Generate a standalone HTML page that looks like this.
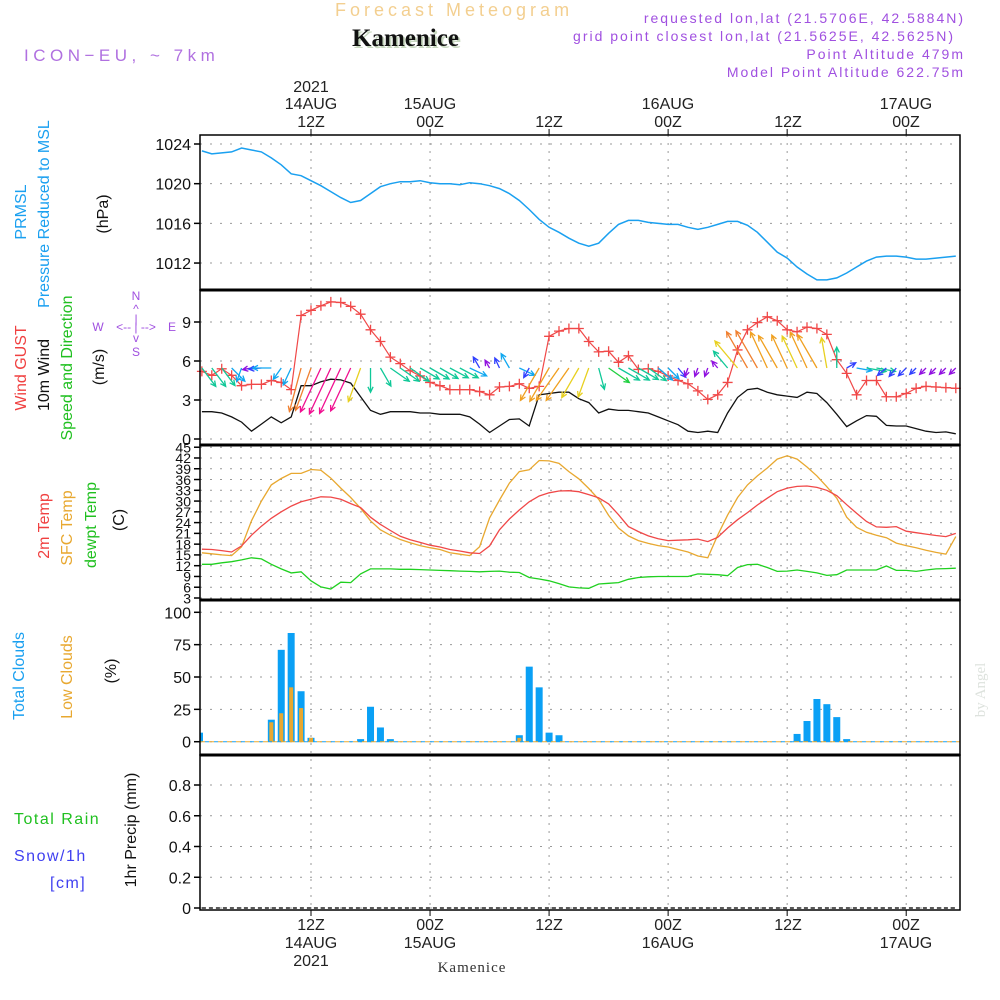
<!DOCTYPE html>
<html><head><meta charset="utf-8"><style>
html,body{margin:0;padding:0;background:#fff;}
svg{display:block;font-family:"Liberation Sans",sans-serif;}
</style></head><body>
<svg id="chart" width="1000" height="1000" viewBox="0 0 1000 1000" xmlns="http://www.w3.org/2000/svg">
<text x="335" y="16" font-size="18" fill="#f3cf90" letter-spacing="4">Forecast Meteogram</text>
<text x="354" y="48" font-size="25" font-weight="bold" font-family="Liberation Serif,serif" fill="#c8d8c0">Kamenice</text>
<text x="352" y="46" font-size="25" font-weight="bold" font-family="Liberation Serif,serif" fill="#111">Kamenice</text>
<g fill="#a050e0" font-size="14" text-anchor="end" letter-spacing="2">
<text x="965" y="23">requested lon,lat (21.5706E, 42.5884N)</text>
<text x="955" y="41">grid point closest lon,lat (21.5625E, 42.5625N)</text>
<text x="965" y="59">Point Altitude 479m</text>
<text x="965" y="77">Model Point Altitude 622.75m</text>
</g>
<text x="24" y="61" font-size="17" fill="#b070e0" letter-spacing="4.5">ICON−EU, ~ 7km</text>
<g font-size="16" fill="#222" text-anchor="middle">
<text x="311" y="92">2021</text>
<text x="311" y="109">14AUG</text>
<text x="311" y="127">12Z</text>
<text x="430" y="109">15AUG</text>
<text x="430" y="127">00Z</text>
<text x="549" y="127">12Z</text>
<text x="668" y="109">16AUG</text>
<text x="668" y="127">00Z</text>
<text x="788" y="127">12Z</text>
<text x="906" y="109">17AUG</text>
<text x="906" y="127">00Z</text>
<text x="311" y="930">12Z</text>
<text x="311" y="948">14AUG</text>
<text x="311" y="966">2021</text>
<text x="430" y="930">00Z</text>
<text x="430" y="948">15AUG</text>
<text x="549" y="930">12Z</text>
<text x="668" y="930">00Z</text>
<text x="668" y="948">16AUG</text>
<text x="788" y="930">12Z</text>
<text x="906" y="930">00Z</text>
<text x="906" y="948">17AUG</text>
</g>
<text x="472" y="972" font-size="15" text-anchor="middle" font-family="Liberation Serif,serif" fill="#333" letter-spacing="1">Kamenice</text>
<text transform="translate(985,690) rotate(-90)" font-size="15" text-anchor="middle" font-family="Liberation Serif,serif" fill="#dde2dd">by Angel</text>

<g font-size="16" text-anchor="middle">
<text transform="translate(26,212) rotate(-90)" fill="#1aa0f0">PRMSL</text>
<text transform="translate(49,214) rotate(-90)" fill="#1aa0f0">Pressure Reduced to MSL</text>
<text transform="translate(108,214) rotate(-90)" fill="#111">(hPa)</text>
<text transform="translate(26,368) rotate(-90)" fill="#f04040">Wind GUST</text>
<text transform="translate(49,375) rotate(-90)" fill="#111">10m Wind</text>
<text transform="translate(72,368) rotate(-90)" fill="#20c020">Speed and Direction</text>
<text transform="translate(104,367) rotate(-90)" fill="#111">(m/s)</text>
<text transform="translate(49,526) rotate(-90)" fill="#f04040">2m Temp</text>
<text transform="translate(72,528) rotate(-90)" fill="#e8a830">SFC Temp</text>
<text transform="translate(96,525) rotate(-90)" fill="#20c020">dewpt Temp</text>
<text transform="translate(124,520) rotate(-90)" fill="#111">(C)</text>
<text transform="translate(24,676) rotate(-90)" fill="#1aa0f0">Total Clouds</text>
<text transform="translate(72,677) rotate(-90)" fill="#e8a830">Low Clouds</text>
<text transform="translate(116,671) rotate(-90)" fill="#111">(%)</text>
<text transform="translate(136,830) rotate(-90)" fill="#111">1hr Precip (mm)</text>
</g>
<g font-size="16" letter-spacing="1.5">
<text x="14" y="824" fill="#20c020">Total  Rain</text>
<text x="14" y="861" fill="#4040f0">Snow/1h</text>
<text x="50" y="888" fill="#4040f0">[cm]</text>
</g>
<g fill="#a050e0" font-size="12" text-anchor="middle">
<text x="136" y="300">N</text><text x="136" y="313">^</text><text x="136" y="323">|</text>
<text x="98" y="331">W</text><text x="136" y="331">&lt;-- | --&gt;</text><text x="172" y="331">E</text>
<text x="136" y="342">v</text><text x="136" y="356">S</text>
</g>
<g id="plot"></g>
</svg>
<script>
const hours = [1,2,3,4,5,6,7,8,9,10,11,12,13,14,15,16,17,18,19,20,21,22,23,24,25,26,27,28,29,30,31,32,33,34,35,36,37,38,39,40,41,42,43,44,45,46,47,48,49,50,51,52,53,54,55,56,57,58,59,60,61,62,63,64,65,66,67,68,69,70,71,72,73,74,75,76,77];
const pressure = [1023.3,1023.0,1023.1,1023.2,1023.6,1023.4,1023.2,1022.6,1021.9,1021.0,1020.8,1020.3,1019.8,1019.2,1018.6,1018.1,1018.3,1019.0,1019.7,1020.0,1020.2,1020.2,1020.3,1020.1,1020.0,1020.0,1019.9,1020.1,1020.0,1019.8,1019.5,1019.0,1018.3,1017.4,1016.4,1015.6,1015.1,1014.5,1014.0,1013.7,1014.0,1015.0,1015.9,1016.3,1016.3,1016.1,1016.0,1015.9,1015.9,1015.6,1015.4,1015.6,1015.9,1016.2,1016.2,1015.8,1015.1,1014.1,1013.1,1012.5,1011.6,1010.9,1010.3,1010.3,1010.5,1011.0,1011.6,1012.2,1012.6,1012.7,1012.7,1012.6,1012.4,1012.4,1012.5,1012.6,1012.7];
const windSpeed = [2.1,2.1,2.0,1.7,1.3,0.6,1.15,1.7,1.25,1.7,4.1,4.1,4.4,4.6,4.55,4.3,3.25,2.2,1.9,2.1,2.1,2.1,2.0,2.0,1.9,1.9,1.9,1.7,1.15,0.5,1.0,1.5,1.55,1.0,3.4,3.5,3.6,3.6,3.1,2.8,2.0,2.3,2.2,2.2,2.1,2.0,1.7,1.4,1.1,0.6,0.5,0.6,0.5,2.0,3.2,3.8,3.9,3.6,3.4,3.3,3.2,3.6,3.5,2.8,1.9,0.95,1.4,1.8,1.75,1.05,1.0,1.0,0.8,0.6,0.5,0.55,0.4];
const windGust = [5.2,4.9,5.4,4.9,4.1,4.2,4.2,4.5,4.35,3.8,9.5,9.9,10.25,10.55,10.5,10.2,9.6,8.4,7.5,6.3,5.8,5.25,4.85,4.35,4.1,3.8,3.8,3.8,3.65,3.4,4.0,4.05,4.25,3.9,4.05,7.9,8.3,8.5,8.5,7.5,6.7,6.75,5.9,6.4,5.35,5.4,5.2,4.85,4.5,4.25,3.7,3.05,3.4,4.35,6.85,8.4,8.95,9.4,9.1,8.4,8.25,8.6,8.5,8.05,6.1,5.05,3.4,4.5,4.5,3.25,3.25,3.5,3.9,4.05,4.0,3.95,3.9];
const windDir = [143,143,143,135,200,260,265,270,215,205,195,200,205,205,205,205,200,180,150,125,125,125,120,120,120,118,118,115,330,330,335,330,115,210,210,210,215,215,210,200,165,125,120,120,120,125,130,135,140,200,200,200,320,320,320,330,330,335,330,335,335,335,330,350,0,60,100,100,100,230,220,225,225,225,225,225,225];
const temp2m = [16.6,16.5,16.2,15.8,17.5,20.5,23,25.2,27,28.6,29.8,30.5,31.2,31.1,30.5,29.3,28.2,25.5,23.5,21.8,20.2,19.2,18.5,17.7,17.2,16.5,16.1,15.6,15.4,17.5,22,25,27.5,29.8,31.4,32.3,32.8,32.9,32.6,31.8,30.9,29.2,26.2,22.9,21.5,20.3,19.5,19.0,19.1,19.2,19.4,18.7,19.9,22.5,24.8,26.8,28.9,30.8,32.6,33.6,34.1,34.2,33.8,33.0,31.5,29.0,26.6,24.3,22.8,22.7,22.9,21.6,21.2,20.8,20.4,20.1,21.0];
const tempSfc = [15.6,15.3,15.0,14.8,17.3,24.5,30,34.5,36.3,37.7,37.7,38.8,38.6,36.4,33.6,31.0,28.0,24.5,22.0,20.5,19.3,18.4,17.6,17.0,16.5,15.6,15.2,14.8,17.3,25.3,30.3,35,38.2,38.7,41.3,41.2,40.5,38.2,36.2,33.5,30.5,26.0,22.5,20.3,19.0,18.2,17.6,17.2,16.5,15.8,14.7,14.2,20.5,26.1,31,34.5,37.0,39.2,41.7,42.6,41.7,39.5,37.0,34.0,30.8,25.5,22.7,21.3,20.5,19.8,18.3,17.6,17.0,16.3,15.7,15.2,20.1];
const dewpoint = [12.4,12.4,12.8,13.1,13.6,14.2,13.9,12.4,11.1,10.0,10.3,7.8,6.1,5.5,7.4,7.3,9.7,11.1,11.1,11.1,11.0,11.0,10.9,10.8,10.7,10.6,10.5,10.4,10.3,10.4,10.5,10.2,10.1,8.7,8.3,7.8,7.0,6.1,5.8,5.7,6.9,7.1,7.3,8.2,8.7,8.9,9.0,9.0,9.0,9.0,9.7,9.6,9.5,9.2,11.5,12.3,12.4,11.5,10.4,10.5,10.8,10.4,10.0,9.3,9.5,10.8,10.8,10.8,10.8,11.9,10.7,10.7,10.4,10.8,11.1,11.2,11.3];
const totalClouds = [0,0,0,0,0,0,0,17,71,84,39,3,0,0,0,0,2,27,11,2,0,0,0,0,0,0,0,0,0,0,0,0,5,58,42,7,5,0,0,0,0,0,0,0,0,0,0,0,0,0,0,0,0,0,0,0,0,0,0,0,6,16,33,29,19,2,0,0,0,0,0,0,0,0,0,0,0];
const lowClouds = [0,0,0,0,0,0,0,15,22,42,26,3,0,0,0,0,0,0,0,0,0,0,0,0,0,0,0,0,0,0,0,0,3,0,0,0,0,0,0,0,0,0,0,0,0,0,0,0,0,0,0,0,0,0,0,0,0,0,0,0,0,0,0,0,0,0,0,0,0,0,0,0,0,0,0,0,0];
const precip = [0,0,0,0,0,0,0,0,0,0,0,0,0,0,0,0,0,0,0,0,0,0,0,0,0,0,0,0,0,0,0,0,0,0,0,0,0,0,0,0,0,0,0,0,0,0,0,0,0,0,0,0,0,0,0,0,0,0,0,0,0,0,0,0,0,0,0,0,0,0,0,0,0,0,0,0,0];
const gridHours = [12,24,36,48,60,72];
const pressureTicks = [1024,1020,1016,1012];
const windTicks = [0,3,6,9];
const tempTicks = [3,6,9,12,15,18,21,24,27,30,33,36,39,42,45];
const cloudTicks = [0,25,50,75,100];
const precipTicks = [0,0.2,0.4,0.6,0.8];
const precipLabels = ["0","0.2","0.4","0.6","0.8"];

const NS = "http://www.w3.org/2000/svg";
const plot = document.getElementById('plot');
function mk(tag, attrs, parent){const e=document.createElementNS(NS,tag);for(const k in attrs)e.setAttribute(k,attrs[k]);(parent||plot).appendChild(e);return e;}
const X0 = 200, X1 = 960;
const xH = h => 311 + (h - 12) * 9.92;
const yP = p => 144 + (1024 - p) * 9.92;
const yW = v => 439 - v * 13;
const yT = t => 598 - (t - 3) * 3.59;
const yC = c => 741.7 - c * 1.294;
const yR = r => 908 - r * 153.75;
const panels = [[135,290],[290,445],[445,600],[600,755],[755,910]];

const defs = mk('defs',{});
const cp = mk('clipPath',{id:'clip'},defs);
mk('rect',{x:X0,y:135,width:X1-X0,height:775},cp);

gridHours.forEach(h=>{
  const x=xH(h);
  const g=mk('line',{x1:x,x2:x,y1:135,y2:910,stroke:'#999','stroke-dasharray':'2,6','stroke-width':1});
  
  
  const t1=mk('line',{x1:x,x2:x,y1:129,y2:135,stroke:'#000','stroke-width':1});
  
  
  const t2=mk('line',{x1:x,x2:x,y1:910,y2:916,stroke:'#000','stroke-width':1});
  
  
});

function hgrid(ticks, yf, labels, name, fs){
  ticks.forEach((t,i)=>{
    const y=yf(t);
    const g=mk('line',{x1:X0,x2:X1,y1:y,y2:y,stroke:'#999','stroke-dasharray':'2,8','stroke-width':1});
    
    
    const tk=mk('line',{x1:X0-6,x2:X0,y1:y,y2:y,stroke:'#000','stroke-width':1.5});
    
    
    const lb=mk('text',{x:X0-9,y:y+6*(fs/16),'font-size':fs,'text-anchor':'end',fill:'#111'});
    lb.textContent = labels ? labels[i] : String(t);
    
    
  });
}
hgrid(pressureTicks,yP,null,'pressure-axis',16);
hgrid(windTicks,yW,null,'wind-axis',16);
hgrid(tempTicks,yT,null,'temp-axis',14);
hgrid(cloudTicks,yC,null,'cloud-axis',16);
hgrid(precipTicks,yR,precipLabels,'precip-axis',16);

const pl=(arr,xf,yf)=>arr.map((v,i)=>xf(hours[i]).toFixed(1)+','+yf(v).toFixed(1)).join(' ');
let e;
e=mk('polyline',{points:pl(pressure,xH,yP),fill:'none',stroke:'#1aa0f0','stroke-width':1.5});



const cg=mk('g',{'clip-path':'url(#clip)'});
hours.forEach((h,i)=>{
  const x=xH(h);
  if(totalClouds[i]>0){
    const b=mk('rect',{x:x-3.5,y:yC(totalClouds[i]),width:7,height:yC(0)-yC(totalClouds[i]),fill:'#0aa0f5'},cg);
    
    
  }
  if(lowClouds[i]>0){
    const b=mk('rect',{x:x-2,y:yC(lowClouds[i]),width:4,height:yC(0)-yC(lowClouds[i]),fill:'#e8a830'},cg);
    
    
  }
});
const b0=mk('rect',{x:X0,y:yC(7),width:3,height:yC(0)-yC(7),fill:'#0aa0f5'});


e=mk('line',{x1:X0,x2:X1,y1:yC(0),y2:yC(0),stroke:'#e8a830','stroke-dasharray':'5,4','stroke-width':1});


e=mk('line',{x1:X0,x2:X1,y1:yC(0),y2:yC(0),stroke:'#1aa0f0','stroke-dasharray':'4,5','stroke-dashoffset':4,'stroke-width':1});


e=mk('polyline',{points:pl(precip,xH,yR),fill:'none',stroke:'#222','stroke-dasharray':'4,3','stroke-width':1.5});



e=mk('polyline',{points:pl(tempSfc,xH,yT),fill:'none',stroke:'#e8a830','stroke-width':1.3});


e=mk('polyline',{points:pl(temp2m,xH,yT),fill:'none',stroke:'#f04848','stroke-width':1.3});


e=mk('polyline',{points:pl(dewpoint,xH,yT),fill:'none',stroke:'#20d020','stroke-width':1.3});



e=mk('polyline',{points:pl(windSpeed,xH,yW),fill:'none',stroke:'#111','stroke-width':1.3});


e=mk('polyline',{points:pl(windGust,xH,yW),fill:'none',stroke:'#f04848','stroke-width':1.2});


hours.forEach((h,i)=>{
  const x=xH(h), y=yW(windGust[i]);
  const m=mk('path',{d:`M${x-5},${y}H${x+5}M${x},${y-5}V${y+5}`,stroke:'#f04848','stroke-width':1.3});
  
  
});
function spdColor(v){
  if(v<0.75)return '#9010e0'; if(v<1.25)return '#3040ff'; if(v<1.75)return '#10a8f0';
  if(v<2.25)return '#10c898'; if(v<2.75)return '#20d040'; if(v<3.3)return '#e8d020';
  if(v<3.75)return '#f0a020'; if(v<4.25)return '#f08030'; return '#f01090';
}
const ag=mk('g',{'clip-path':'url(#clip)'});
hours.forEach((h,i)=>{
  const v=windSpeed[i], d=windDir[i]*Math.PI/180, L=Math.max(9,11*v);
  const x0=xH(h), y0=368, x1=x0+Math.sin(d)*L, y1=y0-Math.cos(d)*L;
  const a1=d+Math.PI-0.45, a2=d+Math.PI+0.45, hl=6;
  const p=`M${x0},${y0}L${x1},${y1}M${x1+Math.sin(a1)*hl},${y1-Math.cos(a1)*hl}L${x1},${y1}L${x1+Math.sin(a2)*hl},${y1-Math.cos(a2)*hl}`;
  const a=mk('path',{d:p,fill:'none',stroke:spdColor(v),'stroke-width':1.3},ag);
  
  
});

panels.forEach((p,i)=>{
  const r=mk('rect',{x:X0,y:p[0],width:X1-X0,height:p[1]-p[0],fill:'none',stroke:'#000','stroke-width':1.5});
  
  
});
[290,445,600,755].forEach(y=>{
  const l=mk('line',{x1:X0,x2:X1,y1:y,y2:y,stroke:'#000','stroke-width':3});
  
  
});
</script>
</body></html>
